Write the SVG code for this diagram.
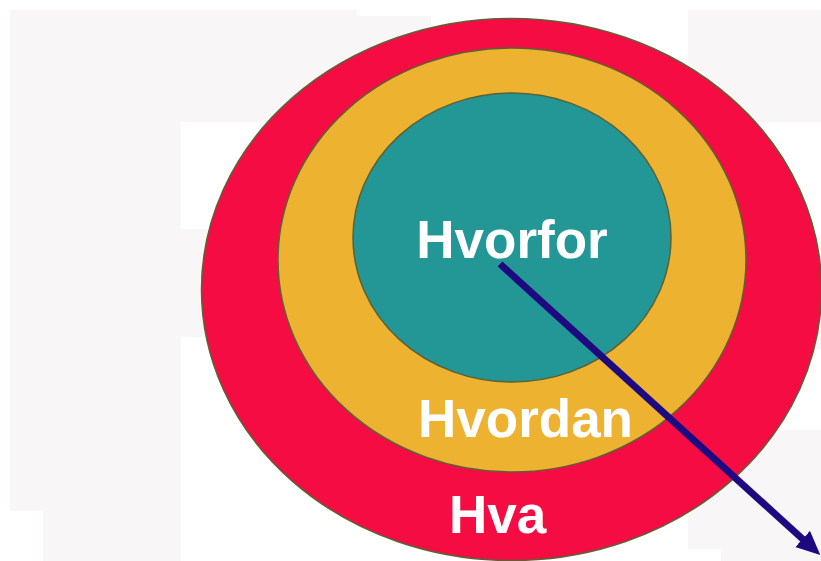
<svg xmlns="http://www.w3.org/2000/svg" width="821" height="561" viewBox="0 0 821 561">
<defs>
<style>
.bg{fill:#f8f6f7;stroke:none}
.ring{stroke:#5e6035;stroke-width:1.5}
.lbl{font-family:"Liberation Sans",Arial,sans-serif;font-weight:bold;font-size:53px;fill:#ffffff;text-anchor:middle}
.conn{stroke:#1e0a80;stroke-width:7;fill:none}
</style>
<marker id="ah" markerUnits="userSpaceOnUse" markerWidth="26" markerHeight="24" refX="6" refY="11" orient="auto">
<path d="M0,0 L24,11 L0,22 Z" fill="#1e0a80"/>
</marker>
</defs>
<rect width="821" height="561" fill="#ffffff"/>
<g id="background">
<rect class="bg" x="10" y="10" width="347" height="112"/>
<rect class="bg" x="357" y="16" width="74" height="40"/>
<rect class="bg" x="10" y="122" width="171" height="389"/>
<rect class="bg" x="43" y="511" width="138" height="50"/>
<rect class="bg" x="181" y="229" width="60" height="108"/>
<rect class="bg" x="688" y="10" width="133" height="112"/>
<rect class="bg" x="810" y="237" width="11" height="112"/>
<rect class="bg" x="688" y="430" width="133" height="119"/>
<rect class="bg" x="721" y="549" width="100" height="12"/>
</g>
<g id="node-hva">
<ellipse class="ring" cx="511.5" cy="289.5" rx="310" ry="271" fill="#f40c43"/>
</g>
<g id="node-hvordan">
<ellipse class="ring" cx="512" cy="260" rx="234" ry="212" fill="#edb230"/>
</g>
<g id="node-hvorfor">
<ellipse class="ring" cx="512" cy="237.5" rx="159" ry="144.5" fill="#239696"/>
</g>
<g id="labels">
<text class="lbl" x="512" y="258">Hvorfor</text>
<text class="lbl" x="525.5" y="437">Hvordan</text>
<text class="lbl" x="497.5" y="533">Hva</text>
</g>
<g id="connectors">
<line class="conn" x1="500" y1="264" x2="807" y2="543" marker-end="url(#ah)"/>
</g>
</svg>
